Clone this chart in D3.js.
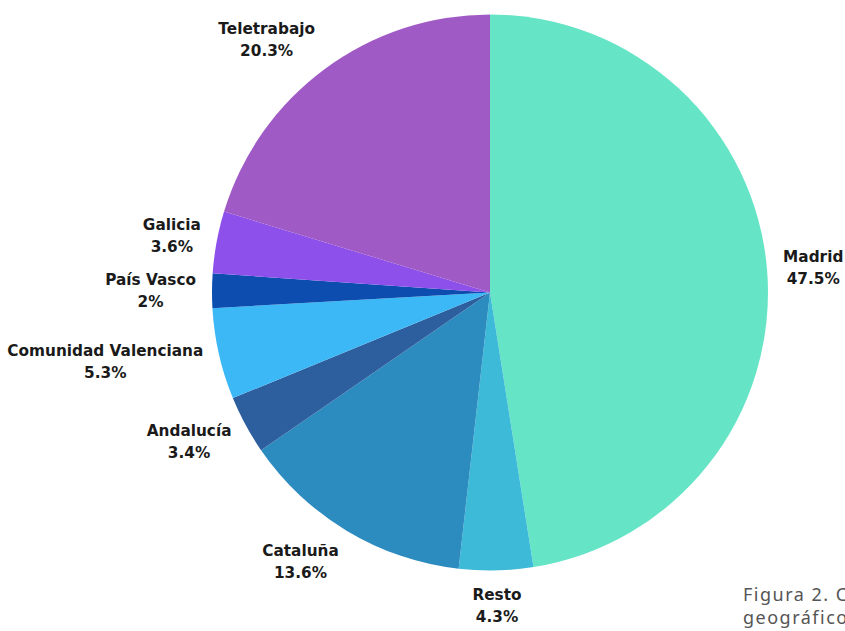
<!DOCTYPE html>
<html lang="es">
<head>
    <meta charset="UTF-8">
    <script src="https://cdn.jsdelivr.net/npm/d3@7"></script>
    <title>Clientes por ámbito geográfico</title>
    <style>
        body { margin: 0; background: #fff; overflow: hidden; }
        .lbl { font-family: 'DejaVu Sans', sans-serif; font-weight: bold; font-size: 15.3px; fill: #1a1a1a; }
        .caption { font-family: 'Noto Sans', sans-serif; font-size: 18px; letter-spacing: 1.5px; fill: #555; }
    </style>
</head>
<body>
    <div id="chart"></div>
    <script>
        // Data (clockwise from 12 o'clock)
        const regions = ["Madrid", "Resto", "Cataluña", "Andalucía", "Comunidad Valenciana", "País Vasco", "Galicia", "Teletrabajo"];
        const shares = [47.5, 4.3, 13.6, 3.4, 5.3, 2, 3.6, 20.3];
        const shareLabels = ["47.5%", "4.3%", "13.6%", "3.4%", "5.3%", "2%", "3.6%", "20.3%"];
        const colors = ["#66e4c6", "#3cbad8", "#2c8bbf", "#2d5e9e", "#3db8f6", "#0c4daf", "#8e50ea", "#a05ac5"];

        const width = 845, height = 631;
        const cx = 490, cy = 292.5, radius = 278;

        const svg = d3.select("#chart").append("svg")
            .attr("width", width)
            .attr("height", height);

        svg.append("rect").attr("width", width).attr("height", height).attr("fill", "#fff");

        const slices = regions.map((r, i) => ({ name: r, value: shares[i], label: shareLabels[i], color: colors[i] }));

        const pie = d3.pie().sort(null).value(d => d.value);
        const arc = d3.arc().innerRadius(0).outerRadius(radius);
        const labelArc = d3.arc().innerRadius(radius + 16).outerRadius(radius + 16);

        const g = svg.append("g").attr("transform", `translate(${cx},${cy})`);
        const arcs = pie(slices);

        g.selectAll("path")
            .data(arcs)
            .enter()
            .append("path")
            .attr("d", arc)
            .attr("fill", d => d.data.color);

        // labels: two lines, pushed outwards so the box sits beside its slice
        const lineGap = 22;
        const labels = g.selectAll("g.label")
            .data(arcs)
            .enter()
            .append("g")
            .attr("class", "label");

        labels.append("text")
            .attr("class", "lbl")
            .attr("text-anchor", "middle")
            .attr("y", -lineGap / 2 + 5)
            .text(d => d.data.name);

        labels.append("text")
            .attr("class", "lbl")
            .attr("text-anchor", "middle")
            .attr("y", lineGap / 2 + 5)
            .text(d => d.data.label);

        labels.attr("transform", function (d) {
            const [px, py] = labelArc.centroid(d);
            const a = (d.startAngle + d.endAngle) / 2;
            const w = d3.max(d3.select(this).selectAll("text").nodes(), n => n.getComputedTextLength());
            const h = 40;
            const s = Math.sin(a);
            const dx = Math.abs(s) > 0.3 ? Math.sign(s) * w / 2 : s * w / 2;
            const dy = -Math.cos(a) * h / 2;
            return `translate(${px + dx},${py + dy})`;
        });

        // caption, cut off at the right edge as in the source
        const cap = svg.append("text").attr("class", "caption").attr("x", 743).attr("y", 601);
        cap.append("tspan").attr("x", 743).text("Figura 2. Clientes por ámbito");
        cap.append("tspan").attr("x", 743).attr("dy", 23).text("geográfico");
    </script>
</body>
</html>
